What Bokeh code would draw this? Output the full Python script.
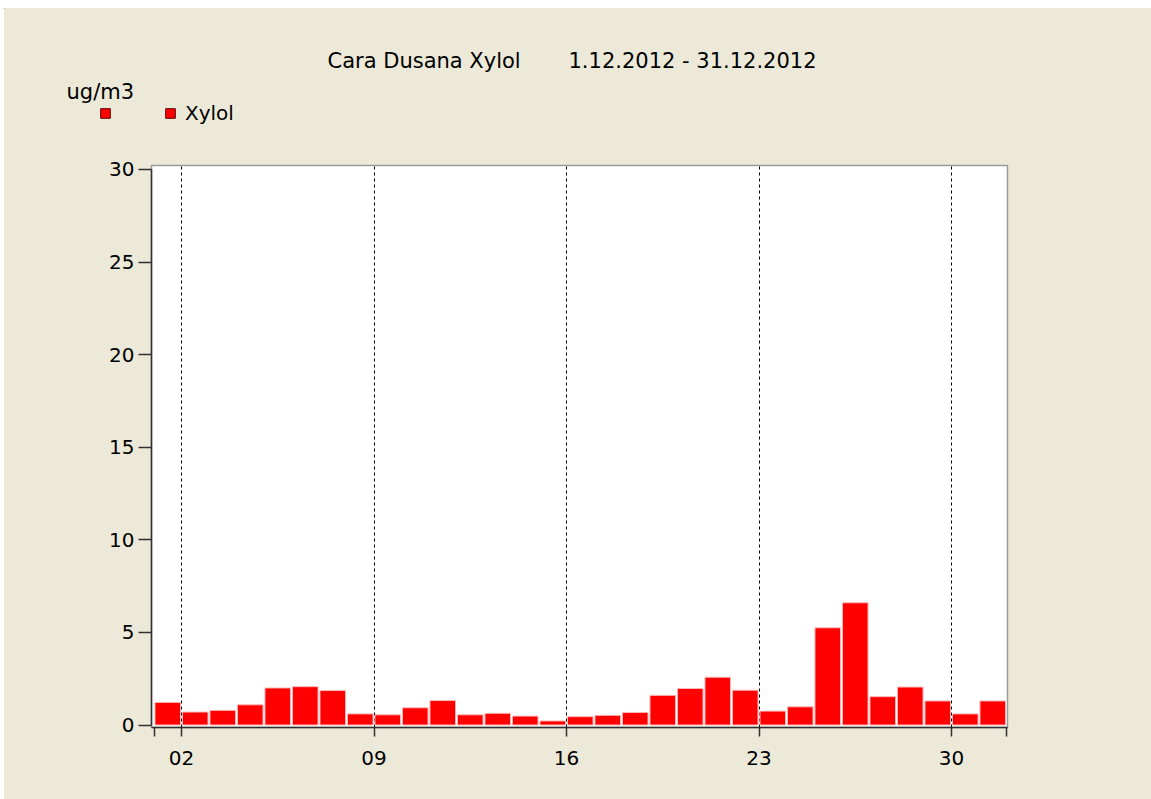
from bokeh.plotting import figure
from bokeh.models import (Range1d, FixedTicker, Legend, LegendItem, ColumnDataSource)
from bokeh.layouts import column
from bokeh.core.properties import value
from bokeh.embed import file_html
from bokeh.resources import INLINE

# ---- data ----
days = list(range(1, 32))
xylol = [1.22, 0.70, 0.79, 1.09, 2.00, 2.07, 1.86, 0.60, 0.55, 0.93,
         1.32, 0.55, 0.63, 0.48, 0.22, 0.45, 0.52, 0.68, 1.60, 1.97,
         2.58, 1.88, 0.75, 0.98, 5.25, 6.60, 1.53, 2.05, 1.30, 0.60, 1.30]
label_days = [2, 9, 16, 23, 30]
tick_labels = ["02", "09", "16", "23", "30"]
y_ticks = [0, 5, 10, 15, 20, 25, 30]
title_left = "Cara Dusana Xylol"
title_right = "1.12.2012 - 31.12.2012"
unit_text = "ug/m3"
series_name = "Xylol"

FONT = "DejaVu Sans"
BG = "#ECE9D8"
RED = "#FF0000"
OFF_X, OFF_Y = 4, 8          # white page strip at left / top
W = 1151 - OFF_X
HDR_BOTTOM = 150             # page y where header ends
HDR_H = HDR_BOTTOM - OFF_Y
MAIN_H = 799 - HDR_BOTTOM

# ---- header (title, unit, legend) ----
hdr = figure(width=W, height=HDR_H,
             x_range=Range1d(OFF_X, OFF_X + W), y_range=Range1d(HDR_BOTTOM, OFF_Y),
             output_backend="svg", toolbar_location=None, title=None,
             x_axis_type=None, y_axis_type=None, frame_align=False,
             min_border=0, min_border_left=0, min_border_right=0,
             min_border_top=0, min_border_bottom=0,
             background_fill_color=BG, border_fill_color=BG, outline_line_color=None)
hdr.xgrid.visible = False
hdr.ygrid.visible = False

hdr.text(x=[327, 568], y=[60.5, 60.5], text=[title_left, title_right],
         text_font=value(FONT), text_font_size="21px", text_color="black",
         text_baseline="alphabetic", text_align="left")
hdr.text(x=[66], y=[91], text=[unit_text],
         text_font=value(FONT), text_font_size="21px", text_color="black",
         text_baseline="alphabetic", text_align="left")

# legend proxy: one swatch datum kept outside the visible header area
leg_r = hdr.vbar(x=[-500], top=[-500], bottom=[-499], width=1, fill_color=RED,
                 line_color="#5A0000", line_width=1)
legend = Legend(items=[LegendItem(label=value(""), renderers=[leg_r]),
                       LegendItem(label=value(series_name), renderers=[leg_r])],
                location=(99 - OFF_X, HDR_BOTTOM - 125), orientation="horizontal",
                glyph_width=12, glyph_height=12, label_standoff=9, spacing=24,
                padding=0, margin=0, border_line_color=None, background_fill_alpha=0,
                label_text_font=FONT, label_text_font_size="20px",
                label_text_color="black", label_height=12)
hdr.add_layout(legend)

# ---- main chart ----
p = figure(width=W, height=MAIN_H,
           x_range=Range1d(0.909, 32.036), y_range=Range1d(-0.135, 30.216),
           output_backend="svg", toolbar_location=None, title=None, frame_align=False,
           min_border_left=151 - OFF_X, min_border_right=1151 - 1007,
           min_border_top=165 - HDR_BOTTOM, min_border_bottom=799 - 727,
           background_fill_color="white", border_fill_color=BG,
           outline_line_color="#9A9A9A", outline_line_width=1.5)

src = ColumnDataSource(dict(x=[d + 0.5 for d in days], top=xylol))
p.vbar(x="x", top="top", width=0.93, bottom=0, source=src,
       fill_color=RED, line_color="#FFB8B8", line_width=1)

xt = [1] + label_days + [32]
p.xaxis.ticker = FixedTicker(ticks=xt)
ov = {1: "", 32: ""}
for d, t in zip(label_days, tick_labels):
    ov[d] = t
p.xaxis.major_label_overrides = ov
p.yaxis.ticker = FixedTicker(ticks=y_ticks)
p.yaxis.bounds = (0, 30)
for ax in (p.xaxis[0], p.yaxis[0]):
    ax.axis_line_color = "#303030"
    ax.axis_line_width = 1.5
    ax.major_tick_line_color = "#303030"
    ax.major_tick_line_width = 1.5
    ax.minor_tick_line_color = None
    ax.major_tick_in = 0
    ax.major_label_text_font = FONT
    ax.major_label_text_font_size = "20px"
    ax.major_label_text_color = "black"
p.yaxis.major_tick_out = 13
p.yaxis.major_label_standoff = 4
p.xaxis.major_tick_out = 9
p.xaxis.major_label_standoff = 14

p.ygrid.grid_line_color = None
p.xgrid.ticker = FixedTicker(ticks=label_days)
p.xgrid.grid_line_color = "black"
p.xgrid.grid_line_dash = "3 3"
p.xgrid.grid_line_width = 1

layout = column(hdr, p, spacing=0, margin=(OFF_Y, 0, 0, OFF_X),
                styles={"background-color": BG})
open("out.html", "w").write(file_html(layout, INLINE))
